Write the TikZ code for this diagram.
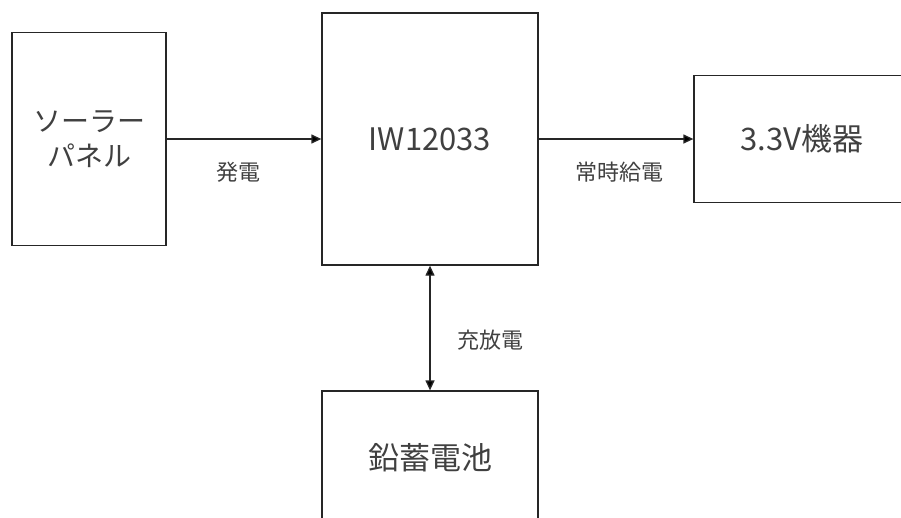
\documentclass[tikz,border=0pt]{standalone}
\usepackage{fontspec}
\setmainfont{Noto Sans CJK JP}
\usetikzlibrary{arrows.meta}
\tikzset{
  blk/.style={draw=black!85, line width=1.3pt, minimum width=216pt, inner sep=0pt,
    text=black!75, align=center, font=\fontsize{31}{36}\selectfont},
  lbl/.style={text=black!75, font=\fontsize{22}{26}\selectfont},
  flow/.style={draw=black!85, line width=1.3pt},
  tip/.tip={Triangle[length=10pt, width=9pt]},
}

\begin{document}
\begin{tikzpicture}[x=1pt, y=-1pt]
        \useasboundingbox (0,0) rectangle (901,517);
        % blocks
        \node[blk, minimum width=154pt, minimum height=213pt,
              font=\fontsize{28}{35}\selectfont] (solar) at (89,139) {ソーラー\\パネル};
        \node[blk, minimum height=252pt] (iw)   at (430,139) {IW12033};
        \node[blk, minimum height=127pt] (dev)  at (802,139) {3.3V機器};
        \node[blk, minimum height=134pt] (batt) at (430,458) {鉛蓄電池};
        % connectors
        \path[flow]     (solar) edge[-tip]     (iw)
                        (iw)    edge[-tip]     (dev)
                        (iw)    edge[tip-tip]  (batt)
        ;
        \node[lbl] (gen)  at (238,172) {発電};
        \node[lbl] (feed) at (619,172) {常時給電};
        \node[lbl] (chg)  at (490,340) {充放電};
\end{tikzpicture}
\end{document}
